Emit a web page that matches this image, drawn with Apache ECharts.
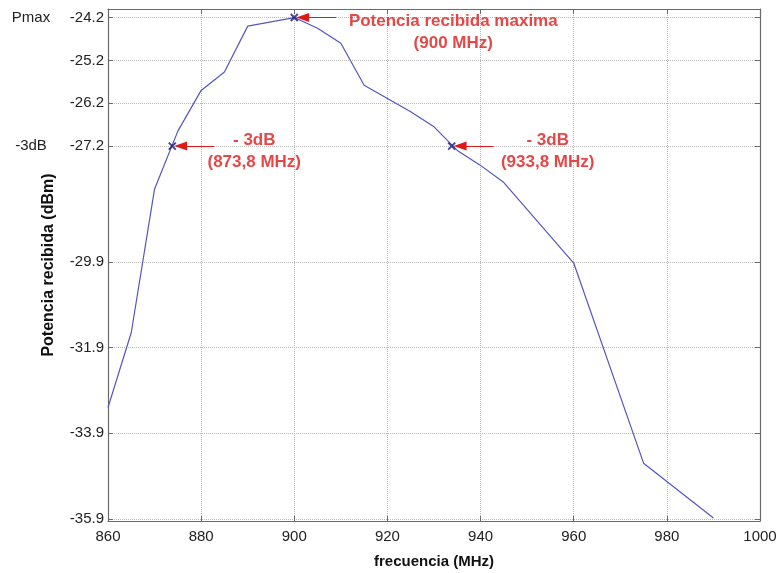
<!DOCTYPE html>
<html>
<head>
<meta charset="utf-8">
<script src="https://cdn.jsdelivr.net/npm/echarts@6/dist/echarts.min.js"></script>
<style>
  html, body { margin: 0; padding: 0; background: #fff; }
  #chart { width: 778px; height: 573px; }
</style>
</head>
<body>
<div id="chart"></div>
<script>
// medida: potencia recibida vs frecuencia
const freqs = [860, 865, 870, 875, 880, 885, 890, 900, 905, 910, 915, 920, 925, 930, 935, 940, 945, 960, 975, 990];
const power = [-33.3, -31.55, -28.2, -26.85, -25.9, -25.47, -24.4, -24.2, -24.45, -24.8, -25.78, -26.09, -26.4, -26.75, -27.3, -27.65, -28.05, -29.93, -34.6, -35.88];

// ticks del eje y (no regulares)
const yTicks = [-24.2, -25.2, -26.2, -27.2, -29.9, -31.9, -33.9, -35.9];
const yRefTicks = [-24.2, -27.2];
const yRefNames = ['Pmax', '-3dB'];

// puntos marcados
const markFreq = [900, 873.8, 933.8];
const markPow = [-24.2, -27.2, -27.2];
const markText = ['Potencia recibida maxima\n(900 MHz)', '- 3dB\n(873,8 MHz)', '- 3dB\n(933,8 MHz)'];

const FONT = '"Liberation Sans", Arial, sans-serif';
const RED = '#e01818';
const AXIS_C = '#6a6a6a';

const chart = echarts.init(document.getElementById('chart'));

const gridLine = {show: true, lineStyle: {color: '#b8b8b8', type: 'dotted', width: 1}};
const tickIn = {show: true, inside: true, length: 5, lineStyle: {color: AXIS_C}};
const axLine = {show: true, lineStyle: {color: AXIS_C, width: 1.2}};

const yBase = {
  type: 'value',
  min: -35.95,
  max: -24.0,
  axisLine: axLine
};

// offsets de texto respecto al punto marcado
const labelOffsets = [[159, 15], [82, 5], [96, 5]];

option = {
  animation: false,
  grid: {left: 108, right: 18, top: 9, bottom: 52, containLabel: false, outerBoundsMode: 'none'},
  xAxis: [{
    type: 'value',
    min: 860, max: 1000, interval: 20,
    position: 'bottom',
    name: 'frecuencia (MHz)',
    nameLocation: 'middle',
    nameGap: 33,
    nameTextStyle: {fontFamily: FONT, fontWeight: 'bold', fontSize: 15, color: '#111'},
    axisLine: axLine,
    axisTick: tickIn,
    axisLabel: {fontFamily: FONT, fontSize: 15, color: '#222', margin: 8, formatter: v => String(v)},
    splitLine: gridLine
  }, {
    type: 'value',
    min: 860, max: 1000, interval: 20,
    position: 'top',
    axisLine: axLine,
    axisTick: tickIn,
    axisLabel: {show: false},
    splitLine: {show: false}
  }],
  yAxis: [Object.assign({}, yBase, {
    position: 'left',
    name: 'Potencia recibida (dBm)',
    nameLocation: 'middle',
    nameGap: 51,
    nameTextStyle: {fontFamily: FONT, fontWeight: 'bold', fontSize: 16, color: '#111'},
    axisTick: Object.assign({customValues: yTicks}, tickIn),
    axisLabel: {customValues: yTicks, fontFamily: FONT, fontSize: 15, color: '#222', margin: 4,
      formatter: v => v.toFixed(1)},
    splitLine: gridLine
  }), Object.assign({}, yBase, {
    position: 'right',
    axisTick: Object.assign({customValues: yTicks}, tickIn),
    axisLabel: {show: false},
    splitLine: {show: false}
  }), Object.assign({}, yBase, {
    position: 'left',
    offset: 73,
    axisLine: {show: false},
    axisTick: {show: false},
    splitLine: {show: false},
    axisLabel: {customValues: yRefTicks, align: 'center', margin: 4, fontFamily: FONT, fontSize: 15, color: '#222',
      formatter: v => yRefNames[yRefTicks.findIndex(t => Math.abs(t - v) < 1e-6)] || ''}
  })],
  series: [{
    type: 'line',
    data: freqs.map((f, i) => [f, power[i]]),
    showSymbol: false,
    symbol: 'none',
    lineStyle: {color: '#5555c4', width: 1.2},
    silent: true,
    z: 3
  }, {
    type: 'scatter',
    data: markFreq.map((f, i) => ({
      value: [f, markPow[i]],
      label: {
        show: true,
        position: 'inside',
        offset: labelOffsets[i],
        formatter: markText[i],
        align: 'center',
        verticalAlign: 'middle',
        color: RED,
        fontFamily: FONT,
        fontWeight: 'bold',
        fontSize: 17,
        lineHeight: 22
      }
    })),
    symbol: 'path://M0,0L10,10M10,0L0,10',
    symbolSize: 7,
    itemStyle: {color: 'none', borderColor: '#1c1c78', borderWidth: 2},
    silent: true,
    z: 5,
    markLine: {
      silent: true,
      symbol: ['none', 'triangle'],
      symbolSize: [9, 13],
      label: {show: false},
      lineStyle: {color: RED, width: 1.2, type: 'solid'},
      data: markFreq.map((f, i) => [
        {coord: [f + 9, markPow[i]]},
        {coord: [f + 1.8, markPow[i]]}
      ])
    }
  }]
};

chart.setOption(option);
</script>
</body>
</html>
